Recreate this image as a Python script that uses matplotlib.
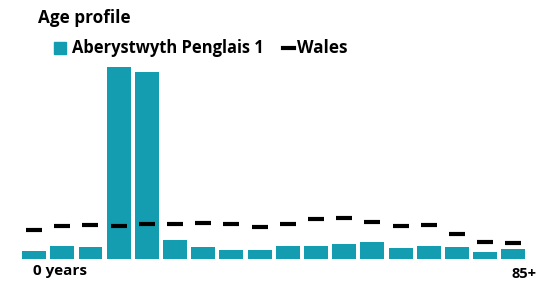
import matplotlib.pyplot as plt
from matplotlib.patches import Rectangle

# Age groups 0-4 ... 85+ (percent of population)
age_groups = ['0-4', '5-9', '10-14', '15-19', '20-24', '25-29', '30-34', '35-39', '40-44',
              '45-49', '50-54', '55-59', '60-64', '65-69', '70-74', '75-79', '80-84', '85+']
area_values = [1.4, 2.4, 2.2, 34.3, 33.3, 3.4, 2.2, 1.6, 1.6,
               2.3, 2.3, 2.6, 3.0, 2.0, 2.3, 2.1, 1.3, 1.7]
wales_values = [5.1, 5.9, 6.1, 5.9, 6.2, 6.2, 6.5, 6.2, 5.8,
                6.2, 7.1, 7.4, 6.6, 5.9, 6.0, 4.4, 3.0, 2.8]
first_label = '0 years'
last_label = '85+'
area_name = 'Aberystwyth Penglais 1'
wales_name = 'Wales'

bar_color = '#149CB0'
font = 'Open Sans'

W, H = 551, 281
fig = plt.figure(figsize=(W / 100, H / 100), dpi=100)


def fx(px):
    return px / W


def fy(py):
    return 1 - py / H


# axes in pixel coordinates
left, right, top, bottom = 20, 527.5, 59, 259
ax = fig.add_axes([fx(left), fy(bottom), (right - left) / W, (bottom - top) / H])

x = list(range(len(age_groups)))
ax.bar(x, area_values, width=0.85, color=bar_color, edgecolor='none')
ax.plot(x, wales_values, linestyle='none', marker='_', markersize=11, markeredgewidth=3,
        color='black')

ax.set_xlim(-0.5, len(age_groups) - 0.5)
ax.set_ylim(0, 35.7)
ax.axis('off')

# x labels under first and last bar
fig.text(fx(33), fy(275), first_label, ha='left', va='baseline', fontsize=11,
         fontweight='bold', family=font)
fig.text(fx(512), fy(277.5), last_label, ha='left', va='baseline', fontsize=10.5,
         fontweight='bold', family=font)

# title and legend
fig.text(fx(38), fy(23), 'Age profile', ha='left', va='baseline', fontsize=12.3,
         fontweight='bold', family=font)
fig.patches.append(Rectangle((fx(54), fy(54)), 12 / W, 12 / H, transform=fig.transFigure,
                             color=bar_color))
fig.text(fx(72), fy(53), area_name, ha='left', va='baseline', fontsize=11.9,
         fontweight='bold', family=font)
fig.lines.append(plt.Line2D([fx(283), fx(294)], [fy(48), fy(48)],
                            transform=fig.transFigure, color='black', linewidth=3))
fig.text(fx(297), fy(53), wales_name, ha='left', va='baseline', fontsize=12.3,
         fontweight='bold', family=font)

fig.savefig('out.png', dpi=100)
